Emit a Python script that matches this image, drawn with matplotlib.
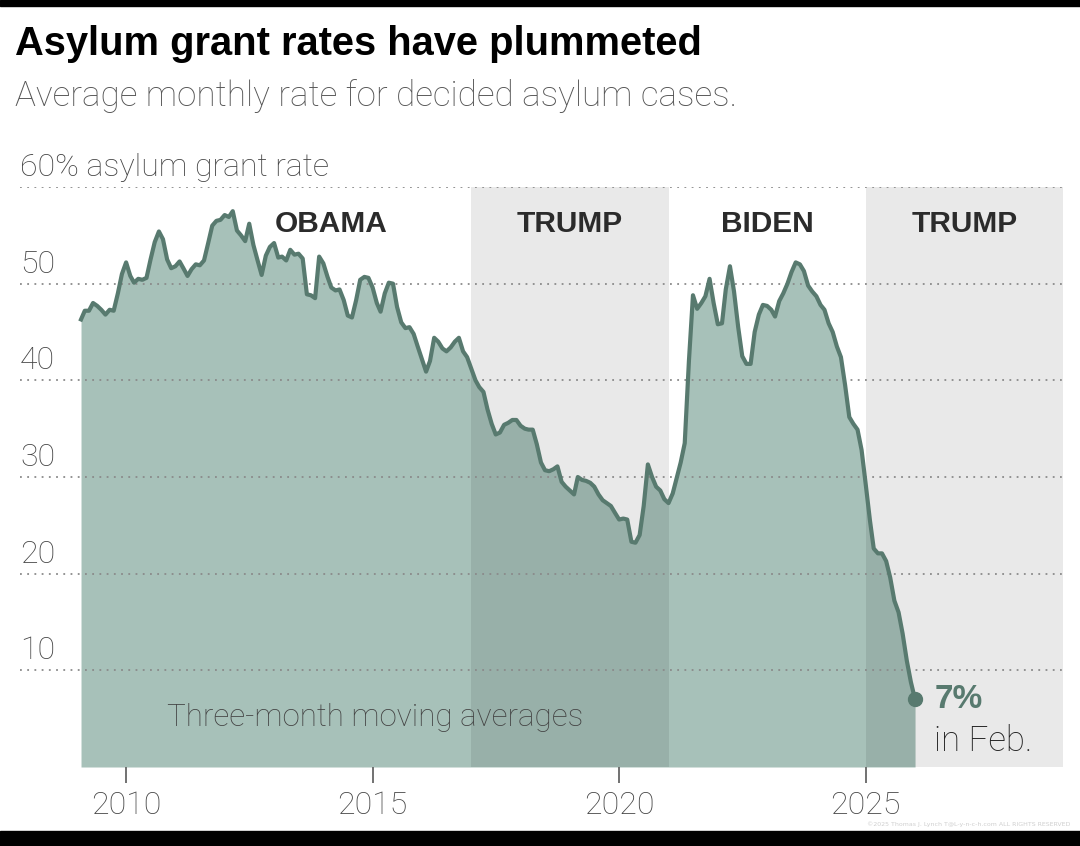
import matplotlib.pyplot as plt
import matplotlib.transforms as mtransforms
import pandas as pd

# three-month moving average asylum grant rate (%), one value per month, from Feb 2009
rate_2009 = [46.3, 47.2, 47.2, 48.0, 47.7, 47.3, 46.8, 47.3, 47.2, 49.0, 51.0]
rate_2010 = [52.2, 50.8, 50.1, 50.5, 50.4, 50.6, 52.5, 54.3, 55.4, 54.6, 52.5, 51.6]
rate_2011 = [51.8, 52.3, 51.6, 50.8, 51.5, 52.0, 51.9, 52.4, 54.2, 56.0, 56.5, 56.6]
rate_2012 = [57.1, 56.9, 57.5, 55.5, 55.0, 54.4, 56.2, 54.0, 52.4, 50.9, 52.9, 53.8]
rate_2013 = [54.2, 52.7, 52.8, 52.4, 53.5, 53.0, 53.1, 52.6, 48.9, 48.8, 48.5, 52.8]
rate_2014 = [52.1, 50.7, 49.6, 49.3, 49.4, 48.3, 46.7, 46.5, 48.3, 50.4, 50.7, 50.6]
rate_2015 = [49.6, 48.0, 47.1, 49.0, 50.1, 50.0, 47.6, 46.0, 45.4, 45.5, 44.8, 43.5]
rate_2016 = [42.2, 40.9, 42.0, 44.4, 44.0, 43.3, 43.0, 43.4, 44.0, 44.4, 43.0, 42.4]
rate_2017 = [41.2, 40.0, 39.3, 38.8, 37.0, 35.5, 34.4, 34.6, 35.4, 35.6, 35.9, 35.9]
rate_2018 = [35.3, 35.0, 34.9, 34.9, 33.4, 31.5, 30.7, 30.6, 30.8, 31.1, 29.5, 29.0]
rate_2019 = [28.6, 28.2, 30.0, 29.7, 29.6, 29.4, 29.0, 28.2, 27.6, 27.3, 27.0, 26.3]
rate_2020 = [25.6, 25.7, 25.6, 23.3, 23.2, 24.0, 27.0, 31.3, 30.0, 29.0, 28.6, 27.7]
rate_2021 = [27.3, 28.3, 29.8, 31.5, 33.5, 42.0, 48.8, 47.4, 48.0, 48.7, 50.5, 48.0]
rate_2022 = [45.8, 45.9, 49.4, 51.8, 49.2, 45.5, 42.5, 41.7, 41.7, 45.0, 46.8, 47.8]
rate_2023 = [47.7, 47.3, 46.6, 48.2, 49.0, 50.0, 51.2, 52.2, 52.0, 51.3, 49.8, 49.2]
rate_2024 = [48.7, 47.8, 47.3, 45.9, 45.0, 43.5, 42.4, 39.5, 36.2, 35.5, 34.9, 32.8]
rate_2025 = [29.2, 25.5, 22.6, 22.1, 22.1, 21.3, 19.6, 17.2, 16.0, 13.8, 11.0, 8.8]
rate_2026 = [7.0]

rates = (rate_2009 + rate_2010 + rate_2011 + rate_2012 + rate_2013 + rate_2014
         + rate_2015 + rate_2016 + rate_2017 + rate_2018 + rate_2019 + rate_2020
         + rate_2021 + rate_2022 + rate_2023 + rate_2024 + rate_2025 + rate_2026)
dates = pd.date_range("2009-02-01", periods=len(rates), freq="MS")

eras = ["OBAMA", "TRUMP", "BIDEN", "TRUMP"]
era_label_at = ["2014-03-01", "2019-01-01", "2023-01-01", "2027-01-01"]
trump_terms = [("2017-01-01", "2021-01-01"), ("2025-01-01", "2029-01-01")]
grid_vals = [10, 20, 30, 40, 50, 60]
year_ticks = [2010, 2015, 2020, 2025]

line_col = "#587a6f"
fill_col = "#a7c1b9"
txt_grey = "#444444"
light = dict(family="Roboto", fontweight="light")

fig = plt.figure(figsize=(10.8, 8.46), dpi=100)
ax = fig.add_axes([20/1080, 1-767/846, 1043/1080, 580/846])

#fill and line------------------------------
ax.fill_between(dates, rates, 0, color=fill_col, lw=0, zorder=1)
for a, b in trump_terms:
    ax.axvspan(pd.Timestamp(a), pd.Timestamp(b), color="black", alpha=0.085, lw=0, zorder=2)
for v in grid_vals:
    ax.axhline(v, color="#8a8a8a", lw=1.3, ls=(0, (1, 3)), zorder=3)
ax.plot(dates, rates, color=line_col, lw=3.0, zorder=4, solid_joinstyle="round")
ax.plot(dates[-1:], rates[-1:], "o", color=line_col, ms=10, zorder=5)

ax.set_xlim(pd.Timestamp("2007-11-07"), pd.Timestamp("2029-01-01"))
ax.set_ylim(0, 60)
for s in ax.spines.values():
    s.set_visible(False)
ax.set_yticks([])
ax.set_xticks([pd.Timestamp(f"{y}-01-01") for y in year_ticks])
ax.set_xticklabels([str(y) for y in year_ticks], color=txt_grey, fontsize=23, **light)
ax.tick_params(axis="x", length=11.5, width=1.3, color="#666666", pad=6)

#y labels sit above the dotted lines
trans = mtransforms.blended_transform_factory(ax.transAxes, ax.transData)
for v in grid_vals:
    lab = "60% asylum grant rate" if v == 60 else str(v)
    ax.annotate(lab, xy=(0, v), xycoords=trans, xytext=(0, 8), textcoords="offset points",
                va="baseline", ha="left", color=txt_grey, fontsize=23, **light)

#era labels-----------------------------------
for name, d in zip(eras, era_label_at):
    ax.text(pd.Timestamp(d), 56.2, name, ha="center", va="center", fontsize=21.5,
            fontweight="bold", family="Liberation Sans", color="#2b2b2b", zorder=6)

ax.text(pd.Timestamp("2010-11-01"), 5.1, "Three-month moving averages", ha="left",
        va="center", color=txt_grey, fontsize=22.6, zorder=6, **light)
ax.annotate("7%", xy=(dates[-1], rates[-1]), xytext=(14, 0), textcoords="offset points",
            ha="left", va="center", fontsize=24, fontweight="bold", family="Liberation Sans",
            color=line_col)
ax.annotate("in Feb.", xy=(dates[-1], rates[-1]), xytext=(14, -30), textcoords="offset points",
            ha="left", va="center", fontsize=25, color="#222222", **light)

#titles---------------------------------------
fig.text(15/1080, 1-55/846, "Asylum grant rates have plummeted", ha="left", va="baseline",
         fontsize=28.7, fontweight="bold", family="Liberation Sans", color="black")
fig.text(15/1080, 1-106/846, "Average monthly rate for decided asylum cases.", ha="left",
         va="baseline", fontsize=25.2, color="#555555", **light)
fig.text(1070/1080, 1-826/846, "\u00a92025 Thomas J. Lynch T@L-y-n-c-h.com ALL RIGHTS RESERVED",
         ha="right", va="baseline", fontsize=4.5, color="#cfcfcf")

#black frame bars top and bottom
fig.patches.append(plt.Rectangle((0, 1-6/846), 1, 6/846, transform=fig.transFigure,
                                 color="black", zorder=10))
fig.patches.append(plt.Rectangle((0, 0), 1, 15/846, transform=fig.transFigure,
                                 color="black", zorder=10))

fig.savefig("out.png", dpi=100)
